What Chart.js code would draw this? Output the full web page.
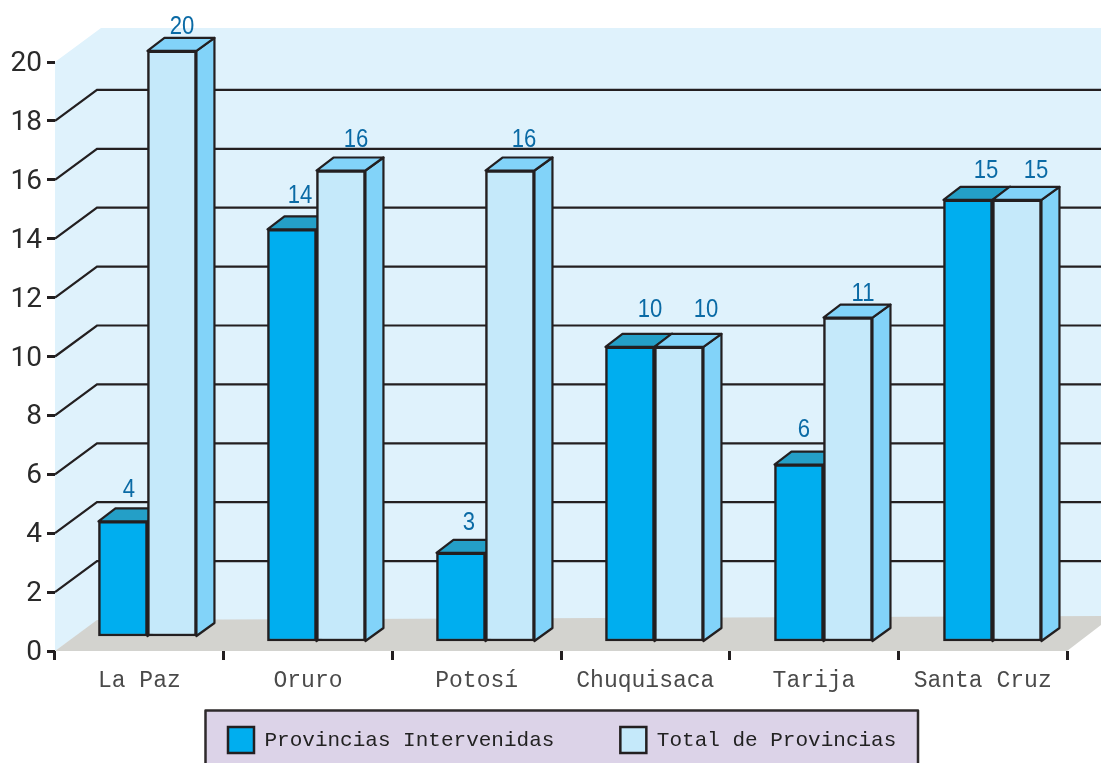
<!DOCTYPE html>
<html><head><meta charset="utf-8">
<style>html,body{margin:0;padding:0;background:#fff;overflow:hidden}canvas{display:block}</style>
<script src="https://cdn.jsdelivr.net/npm/chart.js@4"></script>
</head><body>
<canvas id="c" width="1101" height="763"></canvas>
<script>
const categories = ['La Paz','Oruro','Potosí','Chuquisaca','Tarija','Santa Cruz'];
const intervenidas = [4,14,3,10,6,15];
const totalProv = [20,16,16,10,11,15];
const seriesNames = ['Provincias Intervenidas','Total de Provincias'];
const yTicksMax = 20;

// drawing constants (not data)
const INK = '#231f20';
const labelNudge = [
  [[6,-32],[10,-24]],[[8,-33],[15,-31]],[[8,-30],[14,-31]],
  [[20,-37],[27,-37]],[[5,-35],[15,-24]],[[18,-29],[19,-29]]
];
const DEPTH_X = 18, DEPTH_Y = 13;

function poly(ctx, pts, fill, stroke, lw){
  ctx.beginPath();
  pts.forEach((p,i)=> i ? ctx.lineTo(p[0],p[1]) : ctx.moveTo(p[0],p[1]));
  ctx.closePath();
  if(fill){ctx.fillStyle=fill;ctx.fill();}
  if(stroke){ctx.strokeStyle=stroke;ctx.lineWidth=lw||2;ctx.lineJoin='round';ctx.stroke();}
}

const scene = {
  id:'scene',
  beforeLayout(chart){
    const lg = chart.legend;
    if(lg && !lg._wrapped){
      const f = lg.fit;
      lg.fit = function(){ f.call(this); this.height = 0; };
      lg._wrapped = true;
    }
  },
  afterLayout(chart){
    const lg = chart.legend, pad = lg.options.labels.padding;
    lg.left = 228 - pad; lg.right = 1400; lg.width = lg.right-lg.left;
    lg.top = 727 - pad; lg.bottom = lg.top + 100;
  },
  afterDatasetsUpdate(chart){
    // first group sits slightly higher on the floor in the source figure
    [0,1].forEach(d=>{
      const el = chart.getDatasetMeta(d).data[0];
      el.y -= 2; el.base -= 5;
    });
  },
  beforeDraw(chart){
    const c = chart.ctx;
    c.save();
    poly(c,[[205.5,710.5],[918,710.5],[918,790],[205.5,790]],'#dcd3e8','#2e2a2b',2.5);
    c.restore();
  },
  beforeDatasetsDraw(chart){
    const c = chart.ctx, y = chart.scales.y, a = chart.chartArea, R = 1101;
    const y20 = y.getPixelForValue(yTicksMax), y0 = y.getPixelForValue(0);
    c.save();
    poly(c,[[a.left,y20],[a.left+46,y20-34],[R,y20-34],[R,y0-30],[a.left+42,y0-30],[a.left,y0]],'#dff2fc');
    poly(c,[[a.left,y0],[a.left+42,y0-31],[R,y0-35],[R,y0-26],[a.right,y0]],'#d3d3cf');
    c.strokeStyle=INK;c.lineWidth=2.2;
    y.ticks.forEach(t=>{
      if(t.value===0||t.value===yTicksMax) return;
      const p=y.getPixelForValue(t.value);
      c.beginPath();c.moveTo(a.left,p);c.lineTo(a.left+42,p-31);c.lineTo(R,p-31);c.stroke();
    });
    [[0,'#249fc7'],[1,'#82d3f9']].forEach(([d,col])=>{
      chart.getDatasetMeta(d).data.forEach(el=>{
        const l=el.x-el.width/2,r=el.x+el.width/2,t=el.y,b=el.base;
        poly(c,[[r,t],[r+DEPTH_X,t-DEPTH_Y],[r+DEPTH_X,b-DEPTH_Y],[r,b]],'#82d3f9',INK,2.2);
        poly(c,[[l,t],[l+DEPTH_X-1,t-DEPTH_Y],[r+DEPTH_X,t-DEPTH_Y],[r,t]],col,INK,2.2);
      });
    });
    c.restore();
  },
  afterDatasetsDraw(chart){
    const c = chart.ctx;
    c.font = '26px "Liberation Sans",sans-serif';
    c.fillStyle = '#0a6aa5';c.textAlign='center';c.textBaseline='middle';
    [intervenidas,totalProv].forEach((vals,d)=>{
      chart.getDatasetMeta(d).data.forEach((el,i)=>{
        const n = labelNudge[i][d];
        c.save();
        c.translate(el.x+n[0], el.y+n[1]);
        c.scale(0.85,1);
        c.fillText(String(vals[i]), 0, 0);
        c.restore();
      });
    });
  }
};

new Chart(document.getElementById('c'),{
  type:'bar',
  data:{
    labels:categories,
    datasets:[
      {label:seriesNames[0],data:intervenidas.map((v,i)=>({x:i,y:v})),xAxisID:'x2',yAxisID:'y2',barThickness:49,
       backgroundColor:'#00aeef',borderColor:INK,borderWidth:2.5,borderSkipped:false,clip:false},
      {label:seriesNames[1],data:totalProv.map((v,i)=>({x:i,y:v})),xAxisID:'x2',yAxisID:'y2',barThickness:49,
       backgroundColor:'#c5e9fa',borderColor:INK,borderWidth:2.5,borderSkipped:false,clip:false}
    ]
  },
  options:{
    responsive:false,animation:false,devicePixelRatio:1,
    layout:{padding:{left:0,right:34,top:62,bottom:0}},
    plugins:{
      tooltip:{enabled:false},
      legend:{display:true,position:'bottom',align:'start',
        labels:{boxWidth:26,boxHeight:26,padding:66,color:'#222',
          font:{family:'"Liberation Mono",monospace',size:21}}}
    },
    scales:{
      x:{type:'category',labels:categories,offset:true,position:'bottom',
        afterFit(s){s.height=112;},
        border:{display:false},
        grid:{drawOnChartArea:false,drawTicks:true,tickLength:9,color:INK,tickColor:INK,tickWidth:3,lineWidth:3,offset:true},
        ticks:{color:'#4a4a4a',padding:7,maxRotation:0,autoSkip:false,
          font:{family:'"Liberation Mono",monospace',size:23}}},
      y:{type:'linear',position:'left',min:0,max:yTicksMax,
        afterFit(s){s.width=55;},
        border:{display:false},
        grid:{drawOnChartArea:false,drawTicks:true,tickLength:8,tickColor:INK,tickWidth:3,lineWidth:3},
        ticks:{stepSize:2,color:'#2a2a2a',padding:5,labelOffset:2,
          font:{family:'Roboto,sans-serif',size:28}}},
      x2:{type:'linear',display:false,offset:false,min:-0.547,max:5.441},
      y2:{type:'linear',display:false,min:-0.34,max:19.69}
    }
  },
  plugins:[scene]
});
</script>
</body></html>
